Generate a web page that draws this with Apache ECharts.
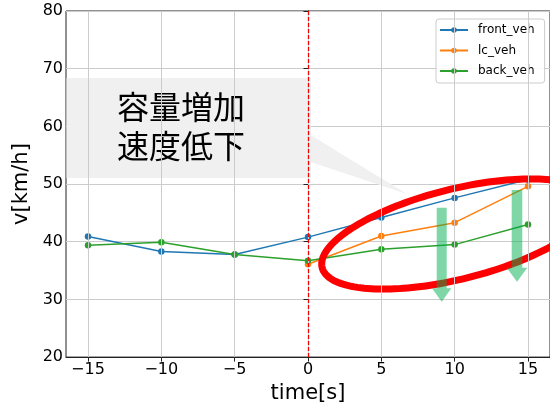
<!DOCTYPE html>
<html><head><meta charset="utf-8">
<script src="https://cdn.jsdelivr.net/npm/echarts@6/dist/echarts.min.js"></script>
<style>html,body{margin:0;padding:0;background:#fff}#c{width:550px;height:409px}</style>
</head><body><div id="c"></div>
<script>
const times = [-15, -10, -5, 0, 5, 10, 15];
const lcTimes = [0, 5, 10, 15];
const frontVeh = [40.9, 38.3, 37.8, 40.8, 44.2, 47.6, 50.8];
const lcVeh = [36.1, 41.0, 43.3, 49.6];
const backVeh = [39.4, 39.9, 37.8, 36.7, 38.7, 39.5, 43.0];
const xTicks = [-15, -10, -5, 0, 5, 10, 15];
const seriesNames = ['front_veh', 'lc_veh', 'back_veh'];
const annotationText = '容量増加\n速度低下';

const colors = ['#1f77b4', '#ff7f0e', '#2ca02c'];
const FONT = 'DejaVu Sans';
const fmt = v => String(v).replace('-', '\u2212');

// ellipse outline (annotation)
const ell = [];
(function () {
  const cx = 457, cy = 234, a = 139, b = 45, th = 14 * Math.PI / 180;
  for (let i = 0; i < 180; i++) {
    const t = i / 180 * 2 * Math.PI;
    const u = Math.cos(t), v = Math.sin(t);
    ell.push([cx + a * u * Math.cos(th) + b * v * Math.sin(th),
              cy - a * u * Math.sin(th) + b * v * Math.cos(th)]);
  }
})();
function arrow(x, top, headY, tipY, sw, hw) {
  return [[x - sw, top], [x + sw, top], [x + sw, headY], [x + hw, headY], [x, tipY], [x - hw, headY], [x - sw, headY]];
}
const arrowFill = 'rgba(0,173,77,0.5)';

const chart = echarts.init(document.getElementById('c'), null, {renderer: 'canvas'});
const pair = (xs, ys) => xs.map((x, i) => [x, ys[i]]);
const lineSeries = (name, data, color) => ({
  name, type: 'line', data, z: 2,
  symbol: 'circle', symbolSize: 6.5, showSymbol: true,
  lineStyle: {color, width: 1.5}, itemStyle: {color, borderWidth: 0},
  emphasis: {disabled: true}, animation: false
});

chart.setOption({
  animation: false,
  grid: {left: 66, top: 11, width: 486, height: 347, show: true, borderColor: '#222', borderWidth: 1},
  legend: {
    data: seriesNames, orient: 'vertical', left: 436, top: 19,
    itemWidth: 28, itemHeight: 7, itemGap: 6.5,
    padding: [4, 10, 5, 3],
    backgroundColor: 'rgba(255,255,255,0.85)', borderColor: '#cccccc', borderWidth: 1, borderRadius: 3,
    textStyle: {fontFamily: FONT, fontSize: 12, color: '#000', padding: [0, 0, 0, 5], lineHeight: 14},
    selectedMode: false, z: 4
  },
  xAxis: {
    type: 'value', min: -16.5, max: 16.5,
    name: 'time[s]', nameLocation: 'middle', nameGap: 25,
    nameTextStyle: {fontFamily: FONT, fontSize: 21, color: '#000'},
    axisLine: {lineStyle: {color: '#222', width: 1}},
    axisTick: {show: true, length: 4.5, customValues: xTicks, lineStyle: {color: '#222'}},
    axisLabel: {customValues: xTicks, formatter: fmt, fontFamily: FONT, fontSize: 16, color: '#000', margin: 5},
    splitLine: {show: false}
  },
  yAxis: {
    type: 'value', min: 20, max: 80, interval: 10,
    name: 'v[km/h]', nameLocation: 'middle', nameGap: 31, nameRotate: 90,
    nameTextStyle: {fontFamily: FONT, fontSize: 21, color: '#000'},
    axisLine: {show: true, lineStyle: {color: '#222', width: 1}},
    axisTick: {show: true, length: 4.5, lineStyle: {color: '#222'}},
    axisLabel: {fontFamily: FONT, fontSize: 16, color: '#000', margin: 3},
    splitLine: {show: true, lineStyle: {color: '#cccccc', width: 1}}
  },
  series: [
    {
      type: 'line', data: [], z: 1, silent: true,
      markLine: {
        silent: true, symbol: 'none', animation: false,
        label: {show: false},
        lineStyle: {color: '#cccccc', width: 1, type: 'solid'},
        data: xTicks.map(v => ({xAxis: v}))
      }
    },
    lineSeries(seriesNames[0], pair(times, frontVeh), colors[0]),
    lineSeries(seriesNames[1], pair(lcTimes, lcVeh), colors[1]),
    lineSeries(seriesNames[2], pair(times, backVeh), colors[2]),
    {
      type: 'line', data: [], z: 2, silent: true,
      markLine: {
        silent: true, symbol: 'none', animation: false,
        label: {show: false},
        lineStyle: {color: '#ff0000', width: 1.3, type: [4, 2]},
        data: [{xAxis: 0}]
      }
    }
  ],
  graphic: [
    {type: 'rect', z: 3, shape: {x: 66.5, y: 78, width: 244.5, height: 100}, style: {fill: '#f0f0f0'}},
    {type: 'polygon', z: 3, shape: {points: [[310.5, 135], [310.5, 162], [407, 194]]}, style: {fill: '#f0f0f0'}},
    {type: 'text', z: 3, x: 117, y: 126,
      style: {text: annotationText, font: '32px "Noto Sans CJK JP"', fill: '#000', verticalAlign: 'middle', lineHeight: 39}},
    {type: 'polygon', z: 5, shape: {points: ell}, style: {fill: 'none', stroke: '#ff0000', lineWidth: 7}},
    {type: 'polygon', z: 6, shape: {points: arrow(441.7, 207.7, 288.3, 301.7, 5, 9.7)}, style: {fill: arrowFill}},
    {type: 'polygon', z: 6, shape: {points: arrow(517, 190, 267.7, 281.7, 5.3, 10.3)}, style: {fill: arrowFill}}
  ]
});
</script></body></html>
